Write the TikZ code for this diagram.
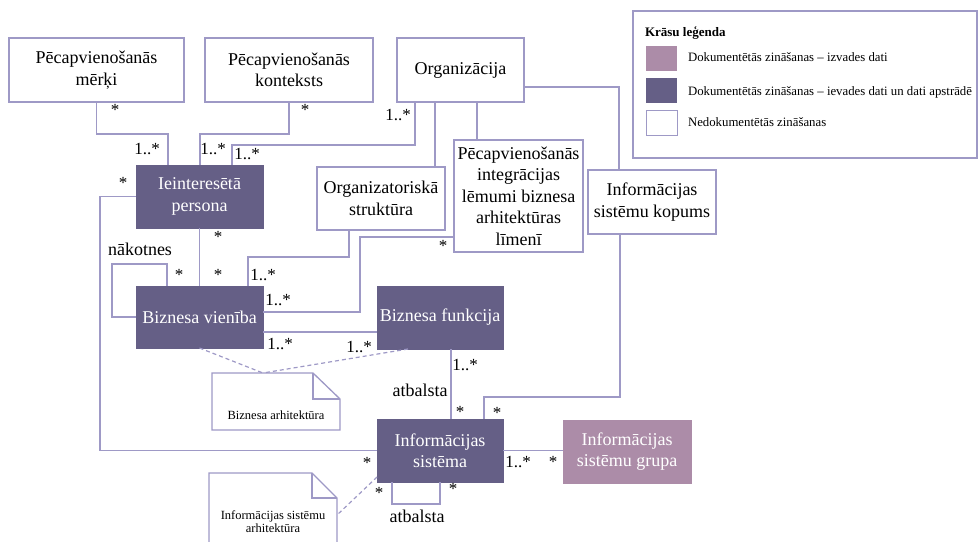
\documentclass[tikz,border=0pt]{standalone}
\usepackage{fontspec}
\setmainfont{Liberation Serif}
\definecolor{edge}{RGB}{158,153,198}
\definecolor{darkbox}{RGB}{101,95,134}
\definecolor{lightbox}{RGB}{172,140,168}
\begin{document}
\begin{tikzpicture}[x=1pt,y=-1pt,
  every node/.style={inner sep=0pt, outer sep=0pt},
  boxfont/.style={font=\fontsize{18}{21.5}\selectfont},
  plain/.style={boxfont, draw=edge, line width=1.3pt, fill=white, align=center},
  docin/.style={boxfont, draw=darkbox, fill=darkbox, text=white, align=center},
  docout/.style={boxfont, draw=lightbox, fill=lightbox, text=white, align=center},
  link/.style={draw=edge, line width=1.3pt},
  trace/.style={draw=edge, line width=1.2pt, dash pattern=on 4pt off 3pt},
  mult/.style={font=\fontsize{17}{17}\selectfont},
  role/.style={font=\fontsize{18}{18}\selectfont},
  notetext/.style={font=\fontsize{12.5}{12.5}\selectfont, align=center},
  legtext/.style={font=\fontsize{12.8}{12.8}\selectfont, anchor=west},
  swatch/.style={minimum width=31pt, minimum height=25pt}
]
\useasboundingbox (0,0) rectangle (979,541);

% ---- classes ----
\node[plain, minimum width=175pt, minimum height=64pt] (merki) at (96.5,70) {Pēcapvienošanās\\mērķi};
\node[plain, minimum width=168pt, minimum height=64pt] (konteksts) at (289,70) {Pēcapvienošanās\\konteksts};
\node[plain, minimum width=127pt, minimum height=64pt] (org) at (460.5,70) {Organizācija};
\node[docin, minimum width=127pt, minimum height=63pt] (persona) at (199.5,196.5) {Ieinteresētā\\persona};
\node[plain, minimum width=128pt, minimum height=63pt] (orgstr) at (381,198.5) {Organizatoriskā\\struktūra};
\node[plain, minimum width=129pt, minimum height=112pt] (lemumi) at (518.5,196) {Pēcapvienošanās\\integrācijas\\lēmumi biznesa\\arhitektūras\\līmenī};
\node[plain, minimum width=128pt, minimum height=64pt] (kopums) at (652,202) {Informācijas\\sistēmu kopums};
\node[docin, minimum width=127pt, minimum height=62pt] (vieniba) at (199.5,317) {Biznesa vienība};
\node[docin, minimum width=126pt, minimum height=63pt] (funkcija) at (440,317.5) {Biznesa funkcija};
\node[docin, minimum width=126pt, minimum height=63pt] (sistema) at (440,450.5) {Informācijas\\sistēma};
\node[docout, minimum width=128pt, minimum height=63pt] (grupa) at (627,451.5) {Informācijas\\sistēmu grupa};

% ---- notes ----
\node[minimum width=128pt, minimum height=57pt] (archB) at (276,401.5) {};
\draw[link, fill=white] (archB.north west) -- ([xshift=-27pt]archB.north east) -- ([yshift=-26pt]archB.north east) -- (archB.south east) -- (archB.south west) -- cycle;
\draw[link] ([xshift=-27pt]archB.north east) -- ([xshift=-27pt,yshift=-26pt]archB.north east) -- ([yshift=-26pt]archB.north east);
\node[notetext] (archBtext) at (276,415) {Biznesa arhitektūra};

\node[minimum width=128pt, minimum height=76pt] (archI) at (273,511) {};
\draw[link, fill=white] (archI.south west) -- (archI.north west) -- ([xshift=-25pt]archI.north east) -- ([yshift=-25pt]archI.north east) -- (archI.south east);
\draw[link] ([xshift=-25pt]archI.north east) -- ([xshift=-25pt,yshift=-25pt]archI.north east) -- ([yshift=-25pt]archI.north east);
\node[notetext] (archItext) at (273,521.5) {Informācijas sistēmu\\arhitektūra};

% ---- associations ----
\draw[link] (merki.south) -- ++(0,32) -| ([xshift=-31.5pt]persona.north);
\draw[link] (konteksts.south) -- ++(0,32) -| ([xshift=0.5pt]persona.north);
\draw[link] ([xshift=-45.5pt]org.south) -- ++(0,43) -| ([xshift=32.5pt]persona.north);
\draw[link] ([xshift=-25.5pt]org.south) -- ([xshift=-25.5pt]org.south |- orgstr.north);
\draw[link] ([xshift=16.5pt]org.south) -- ([xshift=16.5pt]org.south |- lemumi.north);
\draw[link] ([yshift=-17pt]org.east) -| ([xshift=-33pt]kopums.north);
\draw[link] ([xshift=-32pt]kopums.south) -- ++(0,163) -| ([xshift=44pt]sistema.north);
\draw[link] ([xshift=11pt]funkcija.south) -- ([xshift=11pt]sistema.north);
\draw[link] (persona.south) -- (vieniba.north);
\draw[link] ([xshift=-32pt]orgstr.south) -- ++(0,27) -| ([xshift=48.5pt]vieniba.north);
\draw[link] ([yshift=-41pt]lemumi.west) -- ++(-94,0) |- ([yshift=5pt]vieniba.east);
\draw[link] ([yshift=-15pt]vieniba.east) -- ([yshift=-15pt]vieniba.east -| funkcija.west);
\draw[link] ([xshift=-32.5pt]vieniba.north) -- ++(0,-22) -- ++(-55,0) |- (vieniba.west);
\draw[link] (persona.west) -- ++(-36,0) |- (sistema.west);
\draw[link] ([xshift=-48pt]sistema.south) -- ++(0,22) -| (sistema.south);
\draw[link] (sistema.east) -- (sistema.east -| grupa.west);

% ---- note anchors ----
\draw[trace] (vieniba.south) -- ([xshift=-13pt]archB.north);
\draw[trace] ([xshift=31pt]funkcija.south west) -- ([xshift=-13pt]archB.north);
\draw[trace] ([yshift=5pt]sistema.south west) -- ([yshift=-42pt]archI.north east);

% ---- multiplicities and roles ----
\node[mult] (m1) at (115,110) {*};
\node[mult] (m2) at (147,149) {1..*};
\node[mult] (m3) at (305,110) {*};
\node[mult] (m4) at (213,149) {1..*};
\node[mult] (m5) at (398,115) {1..*};
\node[mult] (m6) at (247,154) {1..*};
\node[mult] (m7) at (123,183) {*};
\node[mult] (m8) at (218,237) {*};
\node[mult] (m9) at (218,275) {*};
\node[mult] (m10) at (179,275) {*};
\node[role] (r1) at (140,249) {nākotnes};
\node[mult] (m11) at (263,275) {1..*};
\node[mult] (m12) at (278,300) {1..*};
\node[mult] (m13) at (443,246) {*};
\node[mult] (m14) at (280,344) {1..*};
\node[mult] (m15) at (359,347) {1..*};
\node[mult] (m16) at (465,365) {1..*};
\node[role] (r2) at (420,390) {atbalsta};
\node[mult] (m17) at (460,412) {*};
\node[mult] (m18) at (497,413) {*};
\node[mult] (m19) at (367,463) {*};
\node[mult] (m20) at (379,493) {*};
\node[mult] (m21) at (453,489) {*};
\node[role] (r3) at (417,516) {atbalsta};
\node[mult] (m22) at (518,462) {1..*};
\node[mult] (m23) at (553,462) {*};

% ---- legend ----
\node[draw=edge, line width=1.1pt, fill=white, minimum width=344pt, minimum height=147pt] (legend) at (805,84.5) {};
\node[font=\fontsize{13}{13}\selectfont\bfseries, anchor=west] (legtitle) at (645,33) {Krāsu leģenda};
\node[swatch, fill=lightbox] (sw1) at (661.5,58) {};
\node[swatch, fill=darkbox] (sw2) at (661.5,90.5) {};
\node[swatch, fill=white, draw=edge, line width=1pt] (sw3) at (661.5,123) {};
\node[legtext] (lt1) at (688,57) {Dokumentētās zināšanas – izvades dati};
\node[legtext] (lt2) at (688,92) {Dokumentētās zināšanas – ievades dati un dati apstrādē};
\node[legtext] (lt3) at (688,122) {Nedokumentētās zināšanas};
\end{tikzpicture}
\end{document}
